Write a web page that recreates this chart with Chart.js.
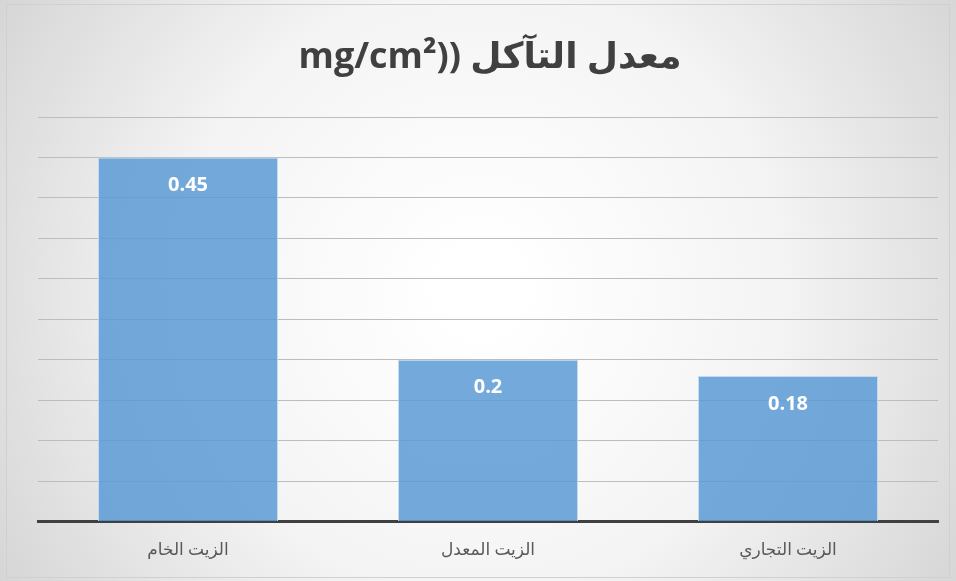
<!DOCTYPE html>
<html>
<head>
<meta charset="utf-8">
<script src="https://cdn.jsdelivr.net/npm/chart.js@4"></script>
<style>
  html, body { margin: 0; padding: 0; background: #fff; }
  #wrap { width: 956px; height: 581px; }
</style>
</head>
<body>
<div id="wrap"><canvas id="corrosionChart" width="956" height="581"></canvas></div>
<script>
// Data
const categories = ["الزيت الخام", "الزيت المعدل", "الزيت التجاري"];
const corrosionRates = [0.45, 0.2, 0.18];
const valueLabels = ["0.45", "0.2", "0.18"];
const titleText = "\u202Bمعدل التآكل ((mg/cm²\u202C";

// Background with soft radial gradient and frame
const backgroundPlugin = {
  id: "bgPlugin",
  beforeDraw(chart) {
    const { ctx, width, height } = chart;
    ctx.save();
    const g = ctx.createRadialGradient(480, 290, 40, 480, 290, 620);
    g.addColorStop(0, "#ffffff");
    g.addColorStop(0.45, "#f4f4f4");
    g.addColorStop(1, "#cfcfcf");
    ctx.fillStyle = g;
    ctx.fillRect(0, 0, width, height);
    ctx.strokeStyle = "#d0d0d0";
    ctx.lineWidth = 1;
    ctx.strokeRect(6.5, 4.5, width - 13, height - 8);
    ctx.restore();
  }
};

// Title and value labels
const textPlugin = {
  id: "textPlugin",
  afterDraw(chart) {
    const { ctx } = chart;
    ctx.save();
    ctx.fillStyle = "#404040";
    ctx.font = "bold 36px 'Open Sans', 'DejaVu Sans', sans-serif";
    ctx.textAlign = "center";
    ctx.textBaseline = "middle";
    ctx.fillText(titleText, 490, 58);

    const meta = chart.getDatasetMeta(0);
    ctx.fillStyle = "#ffffff";
    ctx.font = "bold 20px 'Open Sans', sans-serif";
    meta.data.forEach((bar, i) => {
      ctx.fillText(valueLabels[i], bar.x, bar.y + 28);
    });
    ctx.restore();
  }
};

const ctx = document.getElementById("corrosionChart");

new Chart(ctx, {
  type: "bar",
  data: {
    labels: categories,
    datasets: [{
      data: corrosionRates,
      backgroundColor: "rgba(91, 155, 213, 0.85)",
      borderColor: "rgba(190, 215, 238, 0.9)",
      borderWidth: 1,
      categoryPercentage: 1,
      barPercentage: 0.6
    }]
  },
  options: {
    responsive: false,
    animation: false,
    layout: { padding: { left: 38, right: 18, top: 117, bottom: 1 } },
    plugins: {
      legend: { display: false },
      title: { display: false },
      tooltip: { enabled: false }
    },
    scales: {
      y: {
        min: 0,
        max: 0.5,
        ticks: { display: false, stepSize: 0.05 },
        grid: { color: "#bdbdbd", drawTicks: false, lineWidth: 1 },
        border: { display: false }
      },
      x: {
        grid: { display: false, drawTicks: false },
        border: { color: "#404040", width: 3 },
        ticks: {
          color: "#595959",
          padding: 19,
          font: { size: 17, family: "'Liberation Serif', 'DejaVu Sans', serif" }
        }
      }
    }
  },
  plugins: [backgroundPlugin, textPlugin]
});
</script>
</body>
</html>
